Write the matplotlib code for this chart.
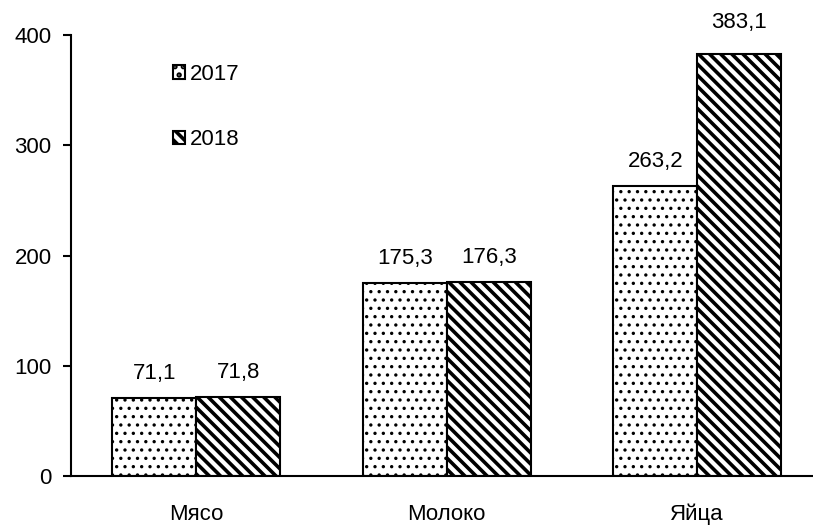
import numpy as np
import matplotlib
matplotlib.use("Agg")
import matplotlib.pyplot as plt

categories = ["Мясо", "Молоко", "Яйца"]
years = ["2017", "2018"]
vals_2017 = [71.1, 175.3, 263.2]
vals_2018 = [71.8, 176.3, 383.1]

plt.rcParams['font.family'] = ['Liberation Sans', 'DejaVu Sans']
plt.rcParams['font.size'] = 16
plt.rcParams['hatch.linewidth'] = 1.2

fig = plt.figure(figsize=(8.13, 5.25), dpi=100)
# axes runs a bit past the right edge, like the original
ax = fig.add_axes([71 / 813, 49 / 525, 751.5 / 813, 441 / 525])

x = np.arange(len(categories))
w = 84 / 250.5

b1 = ax.bar(x - w / 2, vals_2017, w, color="white", edgecolor="black",
            linewidth=1.5, hatch="..", label=years[0])
plt.rcParams['hatch.linewidth'] = 2.6
b2 = ax.bar(x + w / 2, vals_2018, w, color="white", edgecolor="black",
            linewidth=1.5, hatch="\\\\\\", label=years[1])

def fmt(v):
    return f"{v:.1f}".replace(".", ",")

ax.bar_label(b1, labels=[fmt(v) for v in vals_2017], padding=10)
# the tallest label sits a little higher in the original
for i, v in enumerate(vals_2018):
    pad = 15 if v == max(vals_2018) else 10
    ax.annotate(fmt(v), (x[i] + w / 2, v), xytext=(0, pad),
                textcoords="offset points", ha="center", va="bottom")

ax.set_xlim(-0.5, 2.5)
ax.set_ylim(0, 400)
ax.set_yticks([0, 100, 200, 300, 400])
ax.set_xticks(x)
ax.set_xticklabels(categories)
ax.tick_params(axis="x", length=0, pad=20)
ax.tick_params(axis="y", length=6, width=1.5, pad=8)

for s in ["top", "right"]:
    ax.spines[s].set_visible(False)
ax.spines["left"].set_linewidth(1.5)
ax.spines["bottom"].set_linewidth(1.5)

leg = ax.legend(loc="upper left", bbox_to_anchor=(153 / 813, 1 - 44 / 525),
                bbox_transform=fig.transFigure, frameon=False,
                handlelength=0.55, handleheight=0.55, handletextpad=0.2,
                labelspacing=2.0)

fig.savefig("out.png", dpi=100)
